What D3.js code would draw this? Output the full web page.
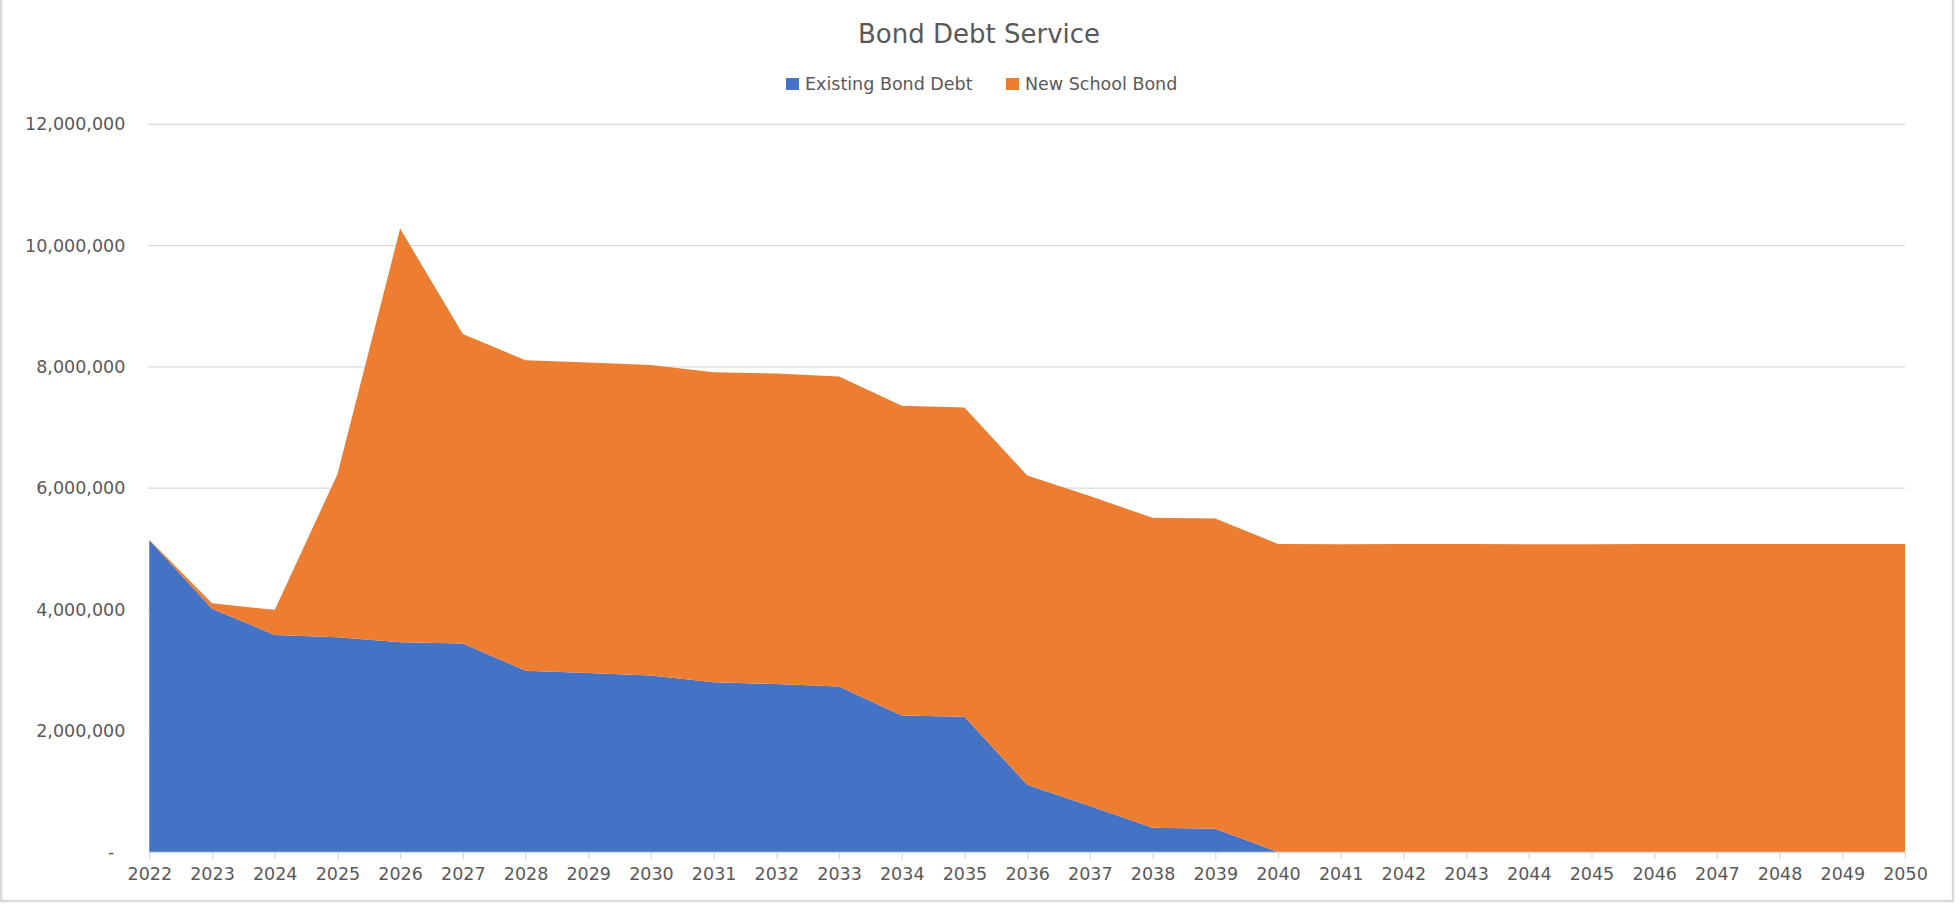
<!DOCTYPE html>
<html>
<head>
<meta charset="utf-8">
<script src="https://cdn.jsdelivr.net/npm/d3@7/dist/d3.min.js"></script>
<style>
  html, body { margin: 0; padding: 0; background: #fff; }
  svg { display: block; font-family: "DejaVu Sans", sans-serif; }
</style>
</head>
<body>
<svg id="chart" width="1959" height="907"></svg>
<script>
const years = d3.range(2022, 2051);
const existingBondDebt = [5140000, 4010000, 3580000, 3540000, 3460000, 3440000, 2990000, 2950000, 2910000, 2800000, 2770000, 2730000, 2250000, 2230000, 1110000, 760000, 400000, 385000, 0, 0, 0, 0, 0, 0, 0, 0, 0, 0, 0];
const newSchoolBond = [10000, 90000, 410000, 2690000, 6820000, 5100000, 5120000, 5120000, 5120000, 5110000, 5120000, 5110000, 5110000, 5100000, 5100000, 5110000, 5110000, 5115000, 5080000, 5075000, 5080000, 5080000, 5075000, 5075000, 5080000, 5080000, 5080000, 5080000, 5080000];
const seriesNames = ["Existing Bond Debt", "New School Bond"];
const seriesColors = ["#4472C4", "#ED7D31"];
const yTicks = [0, 2000000, 4000000, 6000000, 8000000, 10000000, 12000000];
const titleText = "Bond Debt Service";

(function () {
const svg = d3.select("#chart");
const plotLeft = 149.3, plotRight = 1905, plotTop = 124.3, plotBottom = 852;
const textColor = "#595959";
const gridColor = "#d9d9d9";

// chart border
svg.append("rect").attr("x", 1).attr("y", -2).attr("width", 1952).attr("height", 903)
  .attr("fill", "#fff").attr("stroke", "#d9d9d9").attr("stroke-width", 2.5);

const x = d3.scaleLinear().domain([years[0], years[years.length - 1]]).range([plotLeft, plotRight]);
const y = d3.scaleLinear().domain([0, 12000000]).range([plotBottom, plotTop]);

// gridlines
svg.append("g").selectAll("line").data(yTicks.filter(d => d > 0)).join("line")
  .attr("x1", plotLeft - 1).attr("x2", plotRight)
  .attr("y1", d => y(d)).attr("y2", d => y(d))
  .attr("stroke", gridColor).attr("stroke-width", 1.3);

// stacked areas
const table = years.map((yr, i) => ({ year: yr, existing: existingBondDebt[i], newbond: newSchoolBond[i] }));
const stacked = d3.stack().keys(["existing", "newbond"])(table);
const area = d3.area()
  .x(d => x(d.data.year))
  .y0(d => y(d[0]))
  .y1(d => y(d[1]));
svg.append("g").selectAll("path").data(stacked).join("path")
  .attr("d", area)
  .attr("fill", (d, i) => seriesColors[i]);

// x axis
const xAxis = d3.axisBottom(x).tickValues(years).tickFormat(d3.format("d")).tickSize(7).tickPadding(9);
const gx = svg.append("g").attr("transform", `translate(0,${plotBottom})`).call(xAxis);
gx.select(".domain").attr("stroke", gridColor).attr("stroke-width", 1.3).attr("d", `M${plotLeft - 1},0.5H${plotRight}`);
gx.selectAll(".tick line").attr("stroke", gridColor).attr("stroke-width", 1.3);
gx.selectAll(".tick text").attr("fill", textColor).attr("font-size", 17.5)
  .attr("font-family", "DejaVu Sans, sans-serif");

// y axis
const yAxis = d3.axisLeft(y).tickValues(yTicks)
  .tickFormat(d => d === 0 ? "-" : d3.format(",")(d)).tickSize(0).tickPadding(24);
const gy = svg.append("g").attr("transform", `translate(${plotLeft},0)`).call(yAxis);
gy.select(".domain").remove();
gy.selectAll(".tick text").attr("fill", textColor).attr("font-size", 17.5)
  .attr("font-family", "DejaVu Sans, sans-serif")
  .attr("dx", d => d === 0 ? -11 : 0);

// title
svg.append("text").attr("x", 979).attr("y", 42.5).attr("text-anchor", "middle")
  .attr("fill", textColor).attr("font-size", 26).text(titleText);

// legend
const legendX = [786, 1006];
const lg = svg.append("g").selectAll("g").data(seriesNames).join("g")
  .attr("transform", (d, i) => `translate(${legendX[i]},0)`);
lg.append("rect").attr("x", 0).attr("y", 78).attr("width", 13).attr("height", 12)
  .attr("fill", (d, i) => seriesColors[i]);
lg.append("text").attr("x", 19).attr("y", 90).attr("fill", textColor)
  .attr("font-size", 17.5).text(d => d);
})();
</script>
</body>
</html>
